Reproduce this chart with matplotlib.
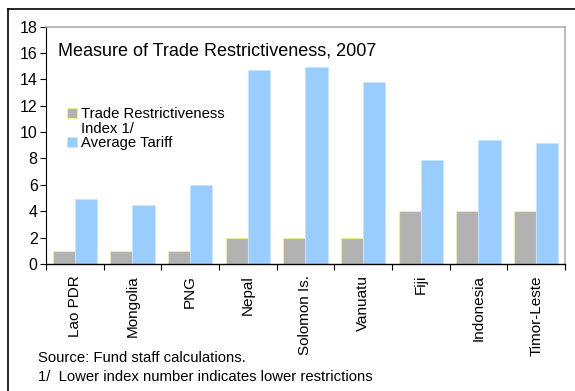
import matplotlib.pyplot as plt
import numpy as np
from matplotlib.lines import Line2D
from matplotlib.patches import Patch

countries = ['Lao PDR', 'Mongolia', 'PNG', 'Nepal', 'Solomon Is.',
             'Vanuatu', 'Fiji', 'Indonesia', 'Timor-Leste']
trade_restrictiveness = [1, 1, 1, 2, 2, 2, 4, 4, 4]
average_tariff = [4.9, 4.5, 6.0, 14.7, 14.9, 13.8, 7.9, 9.4, 9.2]

plt.rcParams['font.family'] = ['Liberation Sans', 'DejaVu Sans']

fig = plt.figure(figsize=(5.75, 3.91), dpi=100)
ax = fig.add_axes([0.08, 0.3248, 0.9026, 0.6074])

x = np.arange(len(countries))
w = 0.385
b1 = ax.bar(x - w / 2, trade_restrictiveness, width=w, color='#B2B2B2',
            edgecolor='#EEEE99', linewidth=0.8)
b2 = ax.bar(x + w / 2, average_tariff, width=w, color='#99CCFF',
            edgecolor='#C8E4FF', linewidth=0.6)

ax.set_xlim(-0.5, len(countries) - 0.5)
ax.set_ylim(0, 18)
ax.set_yticks(range(0, 19, 2))
ax.tick_params(axis='y', labelsize=11.5, length=4, width=0.8, direction='out', pad=2)

# category labels centred, tick marks on boundaries
ax.set_xticks(x)
ax.set_xticklabels(countries, rotation=90, fontsize=11)
ax.tick_params(axis='x', length=0, pad=8)
ax.set_xticks(np.arange(-0.5, len(countries), 1), minor=True)
ax.tick_params(axis='x', which='minor', length=4, width=0.8)

for s in ['top', 'right']:
    ax.spines[s].set_color('#B0B0B0')
    ax.spines[s].set_linewidth(1.2)
ax.spines['left'].set_linewidth(0.8)
ax.spines['bottom'].set_linewidth(1.0)

ax.text(0.023, 0.88, 'Measure of Trade Restrictiveness, 2007', transform=ax.transAxes,
        fontsize=13, va='baseline', ha='left')

# legend: second line of the first label has no marker
blank = Patch(visible=False)
ax.legend([b1, blank, b2], ['Trade Restrictiveness', 'Index 1/', 'Average Tariff'],
          loc='upper left', bbox_to_anchor=(0.04, 0.66), frameon=False, fontsize=10.7,
          handlelength=0.7, handleheight=0.7, handletextpad=0.25, labelspacing=0.03,
          borderpad=0, borderaxespad=0)

fig.text(0.066, 0.074, 'Source: Fund staff calculations.', fontsize=10.7, va='baseline')
fig.text(0.066, 0.026, '1/  Lower index number indicates lower restrictions', fontsize=10.7,
         va='baseline')

# outer frame (top and left edges)
fig.add_artist(Line2D([0.014, 1.0], [0.977, 0.977], color='black', lw=1.2,
                      transform=fig.transFigure))
fig.add_artist(Line2D([0.014, 0.014], [0.0, 0.977], color='black', lw=1.2,
                      transform=fig.transFigure))

fig.savefig('out.png', dpi=100)
